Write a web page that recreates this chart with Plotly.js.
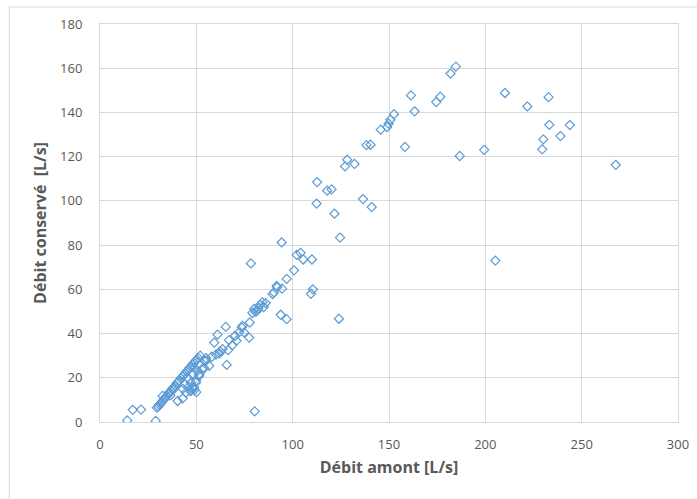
<!DOCTYPE html>
<html>
<head>
<meta charset="utf-8">
<script src="https://cdn.plot.ly/plotly-3.0.1.min.js"></script>
<style>html,body{margin:0;padding:0;background:#fff;}#chart{width:697px;height:499px;}</style>
</head>
<body>
<div id="chart"></div>
<script>
// Débit amont [L/s]
const debitAmont = [
  14.1, 17.0, 21.3, 28.9, 80.3,
  29.5, 30.2, 30.8, 31.5, 32.0, 32.8, 33.5, 34.0, 34.8, 35.5, 36.0, 36.8, 37.5, 38.2, 39.0, 39.8,
  40.5, 41.2, 42.0, 42.8, 43.5, 44.2, 45.0, 45.8, 46.5, 47.2, 48.0, 48.8, 49.5, 50.2, 51.0, 52.0,
  32.5, 40.3, 42.9, 44.6, 47.2, 48.9, 49.8, 51.5, 52.9, 54.1, 55.0, 41.1, 45.4, 48.0, 47.2, 50.6,
  48.9, 54.1, 56.7, 55.0, 46.0, 50.0, 49.0, 44.0, 43.0, 46.8, 48.0, 49.8, 51.5, 38.0, 36.5,
  59.3, 61.0, 65.3, 62.4, 63.6, 62.0, 65.8, 67.0, 68.7, 70.1, 70.8, 72.2, 73.6, 74.0, 74.8, 77.4,
  77.7, 79.1, 80.8, 81.7, 80.0, 82.2, 83.1, 84.3, 86.0, 85.0, 78.3, 89.6, 90.3, 91.7, 92.0, 94.5,
  93.8, 96.9, 96.9, 100.7, 94.3, 102.1, 104.1, 105.5, 109.5, 110.5, 110.0, 124.0, 58.0, 60.2, 66.5,
  112.7, 117.9, 120.2, 112.4, 136.5, 141.0, 121.7, 124.6, 128.3, 127.2, 132.1, 138.3, 140.4,
  145.7, 149.0, 149.8, 150.7, 152.6, 158.3, 161.4, 163.3, 174.5, 176.6, 181.9, 184.7, 186.7,
  199.4, 205.2, 210.2, 221.8, 232.8, 233.2, 243.9, 230.1, 239.0, 229.5, 267.7
];
// Débit conservé [L/s]
const debitConserve = [
  0.7, 5.5, 5.6, 0.5, 4.8,
  6.5, 7.0, 7.8, 8.2, 9.0, 9.8, 10.5, 11.2, 11.8, 12.6, 13.5, 14.0, 15.0, 15.6, 16.4, 17.5,
  18.0, 18.8, 19.8, 20.5, 21.2, 22.0, 23.0, 23.5, 24.5, 25.0, 26.0, 26.8, 27.5, 28.3, 29.0, 30.0,
  11.8, 9.5, 10.7, 13.3, 14.1, 15.6, 17.8, 20.9, 23.9, 27.7, 28.9, 18.6, 20.1, 21.6, 17.8, 23.1,
  24.6, 24.3, 25.4, 27.7, 16.0, 13.5, 14.5, 17.0, 15.0, 14.0, 15.5, 18.6, 21.6, 14.5, 12.0,
  35.9, 39.5, 43.0, 31.9, 33.0, 31.0, 25.8, 37.0, 34.8, 39.0, 36.7, 40.5, 42.7, 43.5, 40.5, 38.2,
  45.0, 49.3, 49.8, 50.5, 51.1, 51.5, 53.0, 54.1, 53.8, 52.0, 71.7, 57.9, 58.6, 61.5, 61.0, 60.3,
  48.5, 46.5, 64.7, 68.6, 81.2, 75.6, 76.5, 73.5, 58.0, 60.0, 73.5, 46.7, 29.5, 30.5, 32.5,
  108.5, 104.6, 105.2, 98.8, 100.8, 97.2, 94.2, 83.4, 118.6, 115.6, 116.7, 125.2, 125.4,
  132.2, 133.4, 134.9, 136.7, 139.2, 124.4, 147.7, 140.5, 144.7, 147.1, 157.6, 160.7, 120.3,
  123.1, 73.0, 148.8, 142.7, 146.9, 134.4, 134.3, 127.8, 129.3, 123.3, 116.3
];
const xTickVals = [0, 50, 100, 150, 200, 250, 300];
const yTickVals = [0, 20, 40, 60, 80, 100, 120, 140, 160, 180];

const textColor = '#595959';
const gridColor = '#d9d9d9';
const fontFam = 'Open Sans, Liberation Sans, sans-serif';

const trace = {
  x: debitAmont,
  y: debitConserve,
  type: 'scatter',
  mode: 'markers',
  marker: {
    symbol: 'diamond-open',
    size: 7,
    color: '#5b9bd5',
    line: {width: 1.2, color: '#5b9bd5'}
  },
  hoverinfo: 'x+y'
};

const layout = {
  width: 697,
  height: 499,
  margin: {l: 100, r: 19, t: 24, b: 77},
  paper_bgcolor: '#ffffff',
  plot_bgcolor: '#ffffff',
  showlegend: false,
  font: {family: fontFam, color: textColor, size: 13},
  xaxis: {
    range: [0, 300],
    tickvals: xTickVals,
    ticktext: xTickVals.map(String),
    showgrid: true,
    gridcolor: gridColor,
    gridwidth: 1,
    zeroline: false,
    showline: true,
    linecolor: gridColor,
    mirror: true,
    ticks: 'outside',
    ticklen: 10,
    tickcolor: 'rgba(0,0,0,0)',
    tickfont: {family: fontFam, size: 13, color: textColor},
    title: {text: 'Débit amont [L/s]', font: {family: fontFam, size: 16, color: textColor, weight: 'bold'}, standoff: 10}
  },
  yaxis: {
    range: [0, 180],
    tickvals: yTickVals,
    ticktext: yTickVals.map(String),
    showgrid: true,
    gridcolor: gridColor,
    gridwidth: 1,
    zeroline: false,
    showline: true,
    linecolor: gridColor,
    mirror: true,
    ticks: 'outside',
    ticklen: 14,
    tickcolor: 'rgba(0,0,0,0)',
    tickfont: {family: fontFam, size: 13, color: textColor},
    title: {text: 'Débit conservé  [L/s]', font: {family: fontFam, size: 16, color: textColor, weight: 'bold'}, standoff: 9}
  },
  shapes: [
    {type: 'rect', xref: 'paper', yref: 'paper', x0: -0.157, x1: 1.1, y0: -0.25, y1: 1.0427,
     line: {color: gridColor, width: 1}, fillcolor: 'rgba(0,0,0,0)', layer: 'below'}
  ]
};

Plotly.newPlot('chart', [trace], layout, {displayModeBar: false, staticPlot: true});
</script>
</body>
</html>
